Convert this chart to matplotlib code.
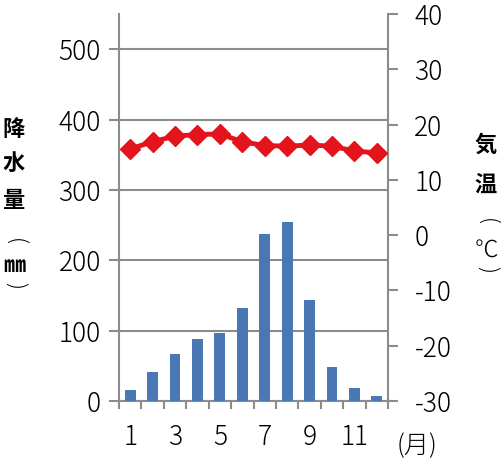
import matplotlib
matplotlib.use('Agg')
import matplotlib.pyplot as plt

plt.rcParams['font.family'] = ['Noto Sans CJK JP', 'DejaVu Sans']
plt.rcParams['font.weight'] = 'light'
plt.rcParams['axes.unicode_minus'] = False

months = list(range(1, 13))
rain = [16, 41, 67, 88, 96, 132, 238, 254, 144, 48, 18, 7]
temp = [15.6, 16.9, 17.9, 18.2, 18.3, 16.9, 16.2, 16.1, 16.3, 16.1, 15.2, 14.9]
month_labels = ['1', '3', '5', '7', '9', '11']
rain_ticks = [0, 100, 200, 300, 400, 500]
temp_ticks = [-30, -20, -10, 0, 10, 20, 30, 40]

W, H = 501, 467
gray = '#8c8c8c'
fig = plt.figure(figsize=(W / 100, H / 100), dpi=100)
ax = fig.add_axes([119 / W, 1 - 401 / H, (388 - 119) / W, (401 - 14) / H])

ax.bar(months, rain, width=0.48, color='#4a78b5', zorder=3)
ax.set_xlim(0.5, 12.5)
ax.set_ylim(0, 550)
ax.set_yticks(rain_ticks)
ax.grid(axis='y', color=gray, linewidth=1.5, zorder=0)
ax.tick_params(axis='y', direction='out', length=7, width=1.5, color=gray,
               labelsize=19, pad=6)

# tick marks between months, labels at odd months
ax.set_xticks([m + 0.5 for m in range(0, 13)])
ax.set_xticklabels([])
ax.set_xticks([1, 3, 5, 7, 9, 11], minor=True)
ax.set_xticklabels(month_labels, minor=True)
ax.tick_params(axis='x', which='major', direction='out', length=6, width=1.5, color=gray)
ax.tick_params(axis='x', which='minor', length=0, labelsize=19, pad=16)

for s in ['top', 'right']:
    ax.spines[s].set_visible(False)
for s in ['left', 'bottom']:
    ax.spines[s].set_color(gray)
    ax.spines[s].set_linewidth(1.5)

ax2 = ax.twinx()
ax2.plot(months, temp, color='#e3141c', linewidth=3.5, marker='D', markersize=10, zorder=4)
ax2.set_ylim(-30, 40)
ax2.set_yticks(temp_ticks)
ax2.tick_params(axis='y', direction='out', length=7, width=1.5, color=gray,
                labelsize=19, pad=12)
for s in ['top', 'left', 'bottom']:
    ax2.spines[s].set_visible(False)
ax2.spines['right'].set_color(gray)
ax2.spines['right'].set_linewidth(1.5)

def put(ch, x, y, **kw):
    kw.setdefault('fontsize', 16)
    fig.text(x / W, 1 - y / H, ch, ha='center', va='center', **kw)

# left label, written vertically (parentheses turned sideways)
for ch, y in zip(['降', '水', '量'], [130, 163, 201]):
    put(ch, 14, y, fontweight='bold')
put('(', 14, 242, rotation=-90, fontsize=16)
put('㎜', 14, 266, fontweight='bold')
put(')', 14, 286, rotation=-90, fontsize=16)

# right label, written vertically
for ch, y in zip(['気', '温'], [145, 185]):
    put(ch, 486, y, fontweight='bold')
put('(', 486, 221, rotation=-90, fontsize=16)
put('℃', 486, 251, fontsize=17)
put(')', 486, 269, rotation=-90, fontsize=16)

put('(月)', 417, 446, fontsize=18)

plt.savefig('out.png', dpi=100)
